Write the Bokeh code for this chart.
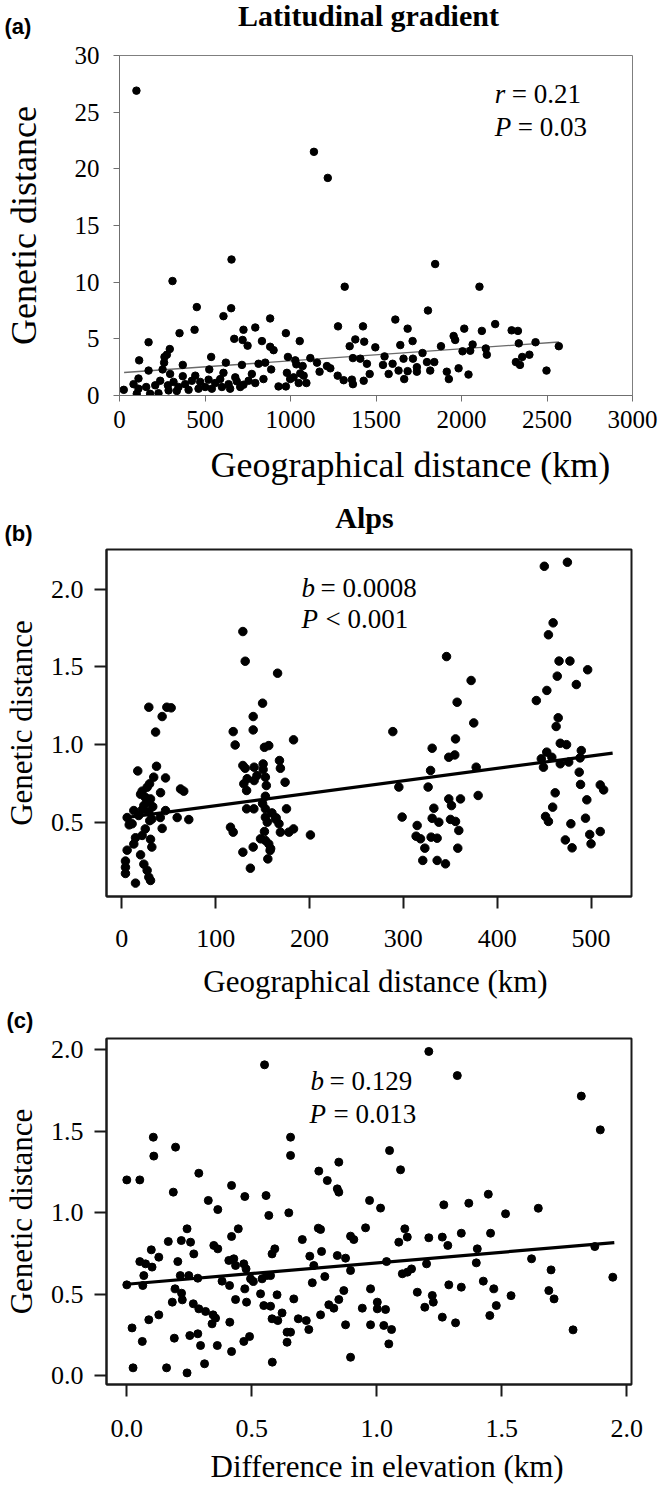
from bokeh.plotting import figure
from bokeh.layouts import column, row
from bokeh.models import Range1d, FixedTicker, NumeralTickFormatter, Label
from bokeh.embed import file_html
from bokeh.resources import INLINE

# ---------------- data ----------------
# (a) Latitudinal gradient: geographical distance (km) vs genetic distance
lat_km = [99, 1137, 1218, 655, 1846, 310, 1317, 2105,
          452, 653, 608, 881, 725, 794, 439, 351, 973, 170, 671, 720, 833, 749, 881, 901, 294, 277,
          263, 115, 536, 985, 622, 261, 370, 716, 813, 852, 1028, 252, 170, 525, 887, 296, 979, 370,
          111, 443, 608, 677, 774, 842, 998, 82, 25, 111, 156, 209, 238, 283, 316, 345, 384, 423,
          472, 521, 560, 589, 638, 686, 725, 755, 794, 930, 973, 101, 179, 228, 287, 335, 404, 462,
          501, 540, 599, 647, 706,
          1804, 1613, 1278, 1424, 1685, 2016, 2197, 2119, 1954, 1963, 1054, 1379, 1431, 1346, 1714,
          1642, 1496, 2065, 1880, 2006, 2051, 2142, 2148, 1772, 1116, 1365, 1408, 1550, 1661, 1716,
          1541, 1597, 1447, 1798, 1841, 1155, 1213, 1233, 1034, 1071, 1817, 1914, 1983, 1739, 1685,
          1632, 1739, 1170, 1057, 1276, 1463, 1574, 2041, 1926, 1665, 1018, 1077, 1311, 1359, 1365,
          1428, 1048, 1093,
          2293, 2330, 2335, 2433, 2569, 2318, 2342, 2355, 2397, 2497]
lat_gd = [26.9, 21.5, 19.2, 12.0, 11.6, 10.1, 9.6, 9.6,
          7.8, 7.7, 7.0, 6.8, 5.8, 6.0, 5.8, 5.5, 5.5, 4.7, 5.0, 4.9, 4.8, 4.4, 4.3, 4.0, 4.1, 3.6,
          3.4, 3.1, 3.4, 3.4, 2.9, 2.9, 2.7, 2.7, 2.8, 2.9, 3.1, 2.3, 2.2, 2.3, 2.3, 1.9, 2.0, 1.7,
          1.5, 1.75, 2.0, 1.6, 1.9, 1.45, 1.45, 1.0, 0.5, 0.6, 0.75, 0.9, 1.3, 0.9, 1.2, 0.75, 1.0, 1.3,
          1.2, 1.4, 1.1, 1.45, 1.0, 1.25, 0.95, 1.3, 1.1, 0.8, 0.8, 0.15, 0.15, 0.2, 0.45, 0.4, 0.5, 0.6,
          0.75, 0.6, 0.75, 0.6, 0.75,
          7.5, 6.7, 6.1, 6.1, 5.9, 5.9, 6.3, 5.7, 5.25, 4.9, 4.8, 4.95, 4.75, 4.35, 4.8,
          4.45, 4.25, 4.5, 4.35, 3.9, 3.95, 4.15, 3.6, 3.75, 3.3, 3.3, 3.25, 3.45, 3.25, 3.25,
          2.7, 2.8, 2.8, 2.95, 2.95, 2.9, 2.6, 2.4, 2.75, 2.6, 2.2, 2.1, 2.4, 2.5, 2.15,
          2.2, 2.1, 2.1, 1.95, 1.75, 1.9, 1.9, 1.85, 1.45, 1.45, 1.6, 1.75, 1.35, 1.4, 1.0,
          1.3, 1.1, 1.1,
          5.75, 5.7, 4.6, 4.7, 4.35, 2.95, 2.7, 3.4, 3.6, 2.2]
lat_fit_x = [27, 2570]
lat_fit_y = [2.03, 4.72]

# (b) Alps: geographical distance (km) vs genetic distance
alps_km = [28.8, 48, 52.6, 43, 36, 17, 37, 34, 46.6, 21.7, 41.3, 25, 62.6, 66, 5.7, 12.8, 11, 18,
           23.5, 28.8, 30.6, 27, 32, 41, 46.6, 59, 71.4, 43, 14.6, 12.8, 21.7, 30.6, 32, 5.7, 3.9,
           3.9, 3.9, 20, 23.5, 27, 28.8, 30.6, 14.6, 25, 27, 29.6, 29.8, 21.8, 7.9, 33, 20,
           129, 131.5, 166, 150, 140, 140, 118.7, 120.8, 152, 156.6, 183, 129, 131.5, 141, 150.6,
           150.6, 168, 169, 130, 133.6, 141, 144, 153, 154, 174, 133, 153, 133, 140.7, 153, 175.5,
           153, 163.7, 155, 115.8, 118.7, 152, 169, 178, 183, 147.8, 153, 156.6, 129, 140, 158,
           155.6, 137, 164.5, 167.5, 201, 158.6, 150, 160,
           288.8, 295.2, 298.7, 314.7, 313.6, 318.3, 322.9, 320.7, 326.4, 329, 330.7, 329.6, 336,
           330.7, 337.8, 332.5, 336, 344.9, 348.4, 354.8, 355.6, 357.3, 372.2, 375, 346, 348.4,
           351.3, 350.2, 355.6, 359.1, 360.9, 358, 377.6, 379.7,
           450.2, 474.8, 459.6, 454.6, 465.9, 477.5, 496.4, 464, 484.3, 452.9, 441.7, 465, 462.8,
           447, 449.3, 452.8, 458.2, 467.2, 473.9, 467.2, 476.2, 489.6, 488.3, 487.4, 488.8, 461.8,
           459.1, 451.5, 454.6, 495.5, 472.6, 478.5, 479.8, 494.1, 498.6, 500, 509.8, 513.4, 509.8]
alps_gd = [1.24, 1.24, 1.236, 1.18, 1.08, 0.83, 0.86, 0.79, 0.785, 0.70, 0.69, 0.66, 0.714, 0.70,
           0.53, 0.575, 0.49, 0.543, 0.607, 0.565, 0.65, 0.63, 0.52, 0.53, 0.575, 0.53, 0.517, 0.46,
           0.40, 0.36, 0.415, 0.39, 0.34, 0.32, 0.25, 0.21, 0.17, 0.29, 0.23, 0.19, 0.146, 0.125,
           0.108, 0.457, 0.725, 0.747, 0.51, 0.58, 0.483, 0.60, 0.68,
           1.727, 1.536, 1.459, 1.266, 1.18, 1.094, 1.083, 0.997, 0.982, 0.993, 1.03, 0.865, 0.847,
           0.854, 0.875, 0.839, 0.897, 0.847, 0.747, 0.78, 0.768, 0.80, 0.79, 0.736, 0.757, 0.704,
           0.667, 0.586, 0.586, 0.586, 0.586, 0.532, 0.52, 0.50, 0.468, 0.436, 0.44, 0.436, 0.436,
           0.457, 0.393, 0.382, 0.36, 0.307, 0.34, 0.318, 0.264, 0.204, 0.528, 0.49, 0.418, 0.33,
           0.62, 0.56,
           1.083, 0.726, 0.533, 0.479, 0.41, 0.393, 0.333, 0.254, 0.726, 0.833, 0.976, 0.404, 0.397,
           0.525, 0.50, 0.59, 0.254, 0.232, 0.918, 0.933, 1.036, 1.272, 1.412, 1.139, 1.566, 0.65,
           0.607, 0.518, 0.505, 0.447, 0.65, 0.333, 0.854, 0.672,
           2.147, 2.173, 1.783, 1.706, 1.537, 1.537, 1.481, 1.44, 1.386, 1.348, 1.283, 1.172, 1.116,
           0.908, 0.854, 0.951, 0.918, 1.008, 0.999, 0.876, 0.887, 0.961, 0.914, 0.822, 0.743,
           0.689, 0.597, 0.537, 0.505, 0.644, 0.386, 0.49, 0.335, 0.526, 0.421, 0.361, 0.74, 0.708,
           0.44]
alps_fit_x = [2, 523]
alps_fit_y = [0.528, 0.945]

# (c) difference in elevation (km) vs genetic distance
elev_km = [0.551, 0.106, 0.108, 0.195, 0.0, 0.052, 0.288, 0.186, 0.326, 0.364, 0.419, 0.472, 0.557,
           0.568, 0.648, 0.655, 0.655, 0.241, 0.166, 0.218, 0.255, 0.098, 0.128, 0.052, 0.075, 0.101,
           0.268, 0.204, 0.348, 0.364, 0.419, 0.446, 0.408, 0.428, 0.435, 0.468, 0.477, 0.592, 0.581,
           0.0, 0.068, 0.064, 0.214, 0.248, 0.284, 0.193, 0.219, 0.182, 0.222, 0.381, 0.411, 0.495,
           0.506, 0.541, 0.559, 0.575, 0.472, 0.535, 0.601, 0.668, 0.435, 0.479, 0.266, 0.288, 0.315,
           0.345, 0.355, 0.341, 0.412, 0.548, 0.575, 0.621, 0.581, 0.604, 0.021, 0.088, 0.128, 0.062,
           0.19, 0.252, 0.284, 0.295, 0.362, 0.419, 0.468, 0.491, 0.641, 0.655, 0.641, 0.025, 0.159,
           0.241, 0.311, 0.582,
           1.208, 1.322, 1.051, 1.095, 0.848, 0.768, 0.802, 0.842, 0.848, 0.971, 1.015, 1.268, 1.368,
           1.446, 0.766, 0.775, 0.955, 0.895, 0.908, 0.702, 1.112, 1.122, 1.088, 1.208, 1.262, 1.284,
           1.338, 1.455, 1.402, 0.779, 0.732, 0.842, 0.875, 0.748, 0.895, 1.039, 1.102, 1.122, 1.139,
           1.199, 1.398, 0.742, 0.792, 0.868, 0.848, 0.808, 0.828, 0.775, 0.975, 0.942, 1.002, 1.002,
           1.035, 0.975, 1.028, 1.059, 0.875, 1.048, 0.895, 1.162, 1.222, 1.226, 1.192, 1.262, 1.288,
           1.338, 1.315, 1.426, 1.468, 1.478, 1.452, 0.686, 0.718, 0.728,
           1.872, 1.944, 1.619, 1.697, 1.688, 1.709, 1.785, 1.537, 1.818, 1.894, 1.646, 1.515]
elev_gd = [1.906, 1.462, 1.346, 1.401, 1.2, 1.2, 1.241, 1.125, 1.074, 1.018, 1.166, 1.098, 1.104,
           0.982, 0.998, 1.462, 1.35, 0.9, 0.822, 0.828, 0.818, 0.771, 0.726, 0.699, 0.685, 0.665,
           0.746, 0.699, 0.798, 0.777, 0.853, 0.9, 0.706, 0.716, 0.675, 0.685, 0.654, 0.777, 0.746,
           0.556, 0.613, 0.552, 0.613, 0.613, 0.597, 0.532, 0.505, 0.45, 0.464, 0.579, 0.552, 0.593,
           0.577, 0.593, 0.613, 0.613, 0.532, 0.501, 0.495, 0.47, 0.466, 0.45, 0.44, 0.409, 0.393,
           0.372, 0.352, 0.317, 0.327, 0.429, 0.425, 0.384, 0.348, 0.337, 0.292, 0.342, 0.372, 0.209,
           0.229, 0.245, 0.256, 0.184, 0.184, 0.147, 0.209, 0.239, 0.266, 0.266, 0.204, 0.047, 0.047,
           0.016, 0.072, 0.082,
           1.988, 1.84, 1.38, 1.262, 1.309, 1.254, 1.196, 1.145, 1.125, 1.074, 1.027, 1.047, 1.057,
           1.112, 0.904, 0.896, 0.906, 0.855, 0.834, 0.834, 0.9, 0.849, 0.818, 0.845, 0.849, 0.798,
           0.873, 0.873, 0.777, 0.761, 0.732, 0.736, 0.72, 0.675, 0.644, 0.699, 0.624, 0.634, 0.654,
           0.685, 0.691, 0.569, 0.607, 0.521, 0.466, 0.434, 0.413, 0.372, 0.532, 0.413, 0.45, 0.409,
           0.405, 0.311, 0.307, 0.282, 0.311, 0.194, 0.112, 0.511, 0.491, 0.45, 0.419, 0.358, 0.556,
           0.542, 0.323, 0.579, 0.532, 0.429, 0.368, 0.348, 0.337, 0.282,
           0.791, 0.603, 0.716, 0.648, 0.521, 0.47, 0.28, 0.49, 1.714, 1.507, 1.026, 0.992]
elev_fit_x = [0.0, 1.95]
elev_fit_y = [0.56, 0.815]

lat_xticks = [0, 500, 1000, 1500, 2000, 2500, 3000]
lat_yticks = [0, 5, 10, 15, 20, 25, 30]
alps_xticks = [0, 100, 200, 300, 400, 500]
alps_yticks = [0.5, 1.0, 1.5, 2.0]
elev_xticks = [0.0, 0.5, 1.0, 1.5, 2.0]
elev_yticks = [0.0, 0.5, 1.0, 1.5, 2.0]

SERIF = "Liberation Serif"
SANS = "Liberation Sans"
W = 660


def base_fig(h, xr, yr, left, right, top, bottom):
    p = figure(width=W, height=h, x_range=Range1d(*xr), y_range=Range1d(*yr),
               output_backend="svg", toolbar_location=None,
               min_border_left=left, min_border_right=right,
               min_border_top=top, min_border_bottom=bottom)
    p.xgrid.visible = False
    p.ygrid.visible = False
    p.background_fill_color = "white"
    p.border_fill_color = "white"
    for ax in (p.xaxis[0], p.yaxis[0]):
        ax.minor_tick_line_color = None
        ax.major_tick_in = 0
        ax.major_label_text_font = SERIF
        ax.axis_label_text_font = SERIF
        ax.axis_label_text_font_style = "normal"
        ax.major_label_text_color = "black"
        ax.axis_label_text_color = "black"
    p.yaxis[0].major_label_orientation = "horizontal"
    return p


def text_fig(h):
    # a strip of text between the panels; data units equal pixels from its top-left corner
    t = figure(width=W, height=h, x_range=Range1d(0, W), y_range=Range1d(h, 0),
               output_backend="svg", toolbar_location=None,
               x_axis_location=None, y_axis_location=None,
               min_border_left=0, min_border_right=0, min_border_top=0, min_border_bottom=0)
    t.xgrid.visible = False
    t.ygrid.visible = False
    t.outline_line_color = None
    t.background_fill_color = "white"
    t.border_fill_color = "white"
    return t


def put_text(t, x, y, text, font, size, align="left", style="normal"):
    t.add_layout(Label(x=x, y=y, text=text, text_font=font, text_font_style=style,
                       text_font_size=size, text_baseline="alphabetic", text_align=align,
                       text_color="black"))


def stat_label(p, x, y, ital, rest, off, size="27px"):
    p.add_layout(Label(x=x, y=y, text=ital, text_font=SERIF, text_font_style="italic",
                       text_font_size=size, text_baseline="alphabetic", text_align="left",
                       text_color="black"))
    p.add_layout(Label(x=x, y=y, x_offset=off, text=rest, text_font=SERIF,
                       text_font_size=size, text_baseline="alphabetic", text_align="left",
                       text_color="black"))


# ---------------- header of (a) ----------------
h1 = text_fig(39)
put_text(h1, 368, 15, "Latitudinal gradient", SERIF, "30px", align="center", style="bold")
put_text(h1, 4, 26, "(a)", SANS, "22px", style="bold")

# ---------------- (a) ----------------
p1 = base_fig(401, (0, 3000), (0, 30), 119, 28, 16, 45)
p1.outline_line_color = "#7f7f7f"
p1.outline_line_width = 1
p1.xaxis.ticker = FixedTicker(ticks=lat_xticks)
p1.yaxis.ticker = FixedTicker(ticks=lat_yticks)
for ax in (p1.xaxis[0], p1.yaxis[0]):
    ax.axis_line_color = "#6f6f6f"
    ax.major_tick_line_color = "#6f6f6f"
    ax.major_tick_out = 6
    ax.major_label_text_font_size = "25px"
    ax.axis_label_text_font_size = "36px"
p1.yaxis.major_label_standoff = 14
p1.yaxis.axis_label_standoff = 28
p1.xaxis.major_label_standoff = 9
p1.yaxis.axis_label = "Genetic distance"
p1.line(lat_fit_x, lat_fit_y, line_color="#6a6a6a", line_width=1.3)
p1.scatter(lat_km, lat_gd, size=7.5, fill_color="black", line_color="black")
stat_label(p1, 2195, 26.62, "r", "= 0.21", 17)
stat_label(p1, 2195, 23.65, "P", "= 0.03", 23)

# ---------------- strip: x label of (a), header of (b) ----------------
h2 = text_fig(107)
put_text(h2, 210, 24, "Geographical distance (km)", SERIF, "36px")
put_text(h2, 364, 77, "Alps", SERIF, "30px", align="center", style="bold")
put_text(h2, 4, 93, "(b)", SANS, "22px", style="bold")

# ---------------- (b) ----------------
p2 = base_fig(413, (-16.3, 543.1), (0.0219, 2.255), 106, 29, 2, 64)
p2.outline_line_color = "#1a1a1a"
p2.outline_line_width = 2
p2.xaxis.ticker = FixedTicker(ticks=alps_xticks)
p2.yaxis.ticker = FixedTicker(ticks=alps_yticks)
p2.yaxis.formatter = NumeralTickFormatter(format="0.0")
for ax in (p2.xaxis[0], p2.yaxis[0]):
    ax.axis_line_color = "#1a1a1a"
    ax.axis_line_width = 2
    ax.major_tick_line_color = "#1a1a1a"
    ax.major_tick_line_width = 2
    ax.major_tick_out = 12
    ax.major_label_text_font_size = "26px"
    ax.axis_label_text_font_size = "31px"
p2.yaxis.major_label_standoff = 11
p2.yaxis.axis_label_standoff = 9
p2.xaxis.major_label_standoff = 21
p2.yaxis.axis_label = "Genetic distance"
p2.line(alps_fit_x, alps_fit_y, line_color="black", line_width=3.2)
p2.scatter(alps_km, alps_gd, size=8.5, fill_color="black", line_color="black")
stat_label(p2, 191.5, 2.010, "b", "= 0.0008", 19)
stat_label(p2, 191.5, 1.810, "P", "< 0.001", 24)

# ---------------- strip: x label of (b), header of (c) ----------------
h3 = text_fig(73)
put_text(h3, 375, 21, "Geographical distance (km)", SERIF, "31px", align="center")
put_text(h3, 6, 60, "(c)", SANS, "22px", style="bold")

# ---------------- (c) ----------------
p3 = base_fig(417, (-0.0812, 2.0188), (-0.0552, 2.0675), 106, 29, 5, 66)
p3.outline_line_color = "#1a1a1a"
p3.outline_line_width = 2
p3.xaxis.ticker = FixedTicker(ticks=elev_xticks)
p3.yaxis.ticker = FixedTicker(ticks=elev_yticks)
p3.xaxis.formatter = NumeralTickFormatter(format="0.0")
p3.yaxis.formatter = NumeralTickFormatter(format="0.0")
for ax in (p3.xaxis[0], p3.yaxis[0]):
    ax.axis_line_color = "#1a1a1a"
    ax.axis_line_width = 2
    ax.major_tick_line_color = "#1a1a1a"
    ax.major_tick_line_width = 2
    ax.major_tick_out = 12
    ax.major_label_text_font_size = "26px"
    ax.axis_label_text_font_size = "31px"
p3.yaxis.major_label_standoff = 11
p3.yaxis.axis_label_standoff = 9
p3.xaxis.major_label_standoff = 23
p3.yaxis.axis_label = "Genetic distance"
p3.line(elev_fit_x, elev_fit_y, line_color="black", line_width=3.2)
p3.scatter(elev_km, elev_gd, size=8, fill_color="black", line_color="black")
stat_label(p3, 0.735, 1.809, "b", "= 0.129", 19)
stat_label(p3, 0.731, 1.607, "P", "= 0.013", 24)

# ---------------- strip: x label of (c) ----------------
f3 = text_fig(39)
put_text(f3, 210, 16, "Difference in elevation (km)", SERIF, "31px")

# each piece sits in its own row so that the column does not line up their frames
layout = column(*[row(f) for f in (h1, p1, h2, p2, h3, p3, f3)], spacing=0)
open("out.html", "w").write(file_html(layout, INLINE))
